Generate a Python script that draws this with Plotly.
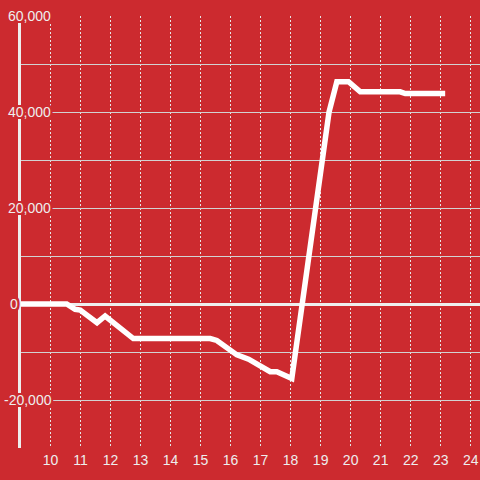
import plotly.graph_objects as go

hours = [8.87, 10.54, 10.82, 10.99, 11.55, 11.82, 12.76, 15.32, 15.54, 16.21, 16.6,
         17.32, 17.54, 18.04, 19.28, 19.54, 19.93, 20.32, 21.65, 21.82, 23.15]
values = [0, 0, -1100, -1250, -3900, -2500, -7200, -7200, -7600, -10600, -11500,
          -14100, -14100, -15500, 40000, 46300, 46300, 44200, 44200, 43850, 43850]

y_label_values = [60000, 40000, 20000, 0, -20000]
y_label_texts = ["60,000", "40,000", "20,000", "0", "-20,000"]
y_label_shift = [-15, -15, -15, -13, -19]

BG = "#cc2a2f"
FG = "#eeeeee"
halo = ", ".join(f"{dx}px {dy}px 0 {BG}" for dx in (-2, -1, 0, 1, 2) for dy in (-2, -1, 0, 1, 2))

fig = go.Figure()
fig.add_trace(go.Scatter(
    x=hours, y=values, mode="lines",
    line=dict(color="#ffffff", width=5.5),
    hoverinfo="skip", showlegend=False,
))

for v, t, s in zip(y_label_values, y_label_texts, y_label_shift):
    fig.add_annotation(
        x=0, xref="paper", y=v, yref="y", text=t, showarrow=False,
        xanchor="left", yanchor="middle", xshift=s,
        font=dict(family="Liberation Sans, Arial, sans-serif", size=14, color=FG, shadow=halo),
    )

fig.update_layout(
    width=480, height=480,
    margin=dict(l=21, r=0, t=16, b=32),
    paper_bgcolor=BG, plot_bgcolor=BG,
    font=dict(family="Liberation Sans, Arial, sans-serif", size=14, color=FG),
    xaxis=dict(
        range=[9.017, 24.31], tick0=10, dtick=1, showgrid=True,
        gridcolor="#e6e6e6", gridwidth=1, griddash="2px,2px",
        zeroline=False, showline=False, ticks="",
        tickfont=dict(size=14, color=FG), ticklabelstandoff=2,
    ),
    yaxis=dict(
        range=[-30000, 60000], tick0=0, dtick=10000, showgrid=True,
        gridcolor="#d2d2d2", gridwidth=1,
        zeroline=True, zerolinecolor=FG, zerolinewidth=3,
        showline=True, linecolor=FG, linewidth=3,
        showticklabels=False, ticks="",
    ),
)

fig.write_html(
    "out.html",
    config={"displayModeBar": False},
    post_script="document.body.style.margin='0';document.body.style.overflow='hidden';",
)
